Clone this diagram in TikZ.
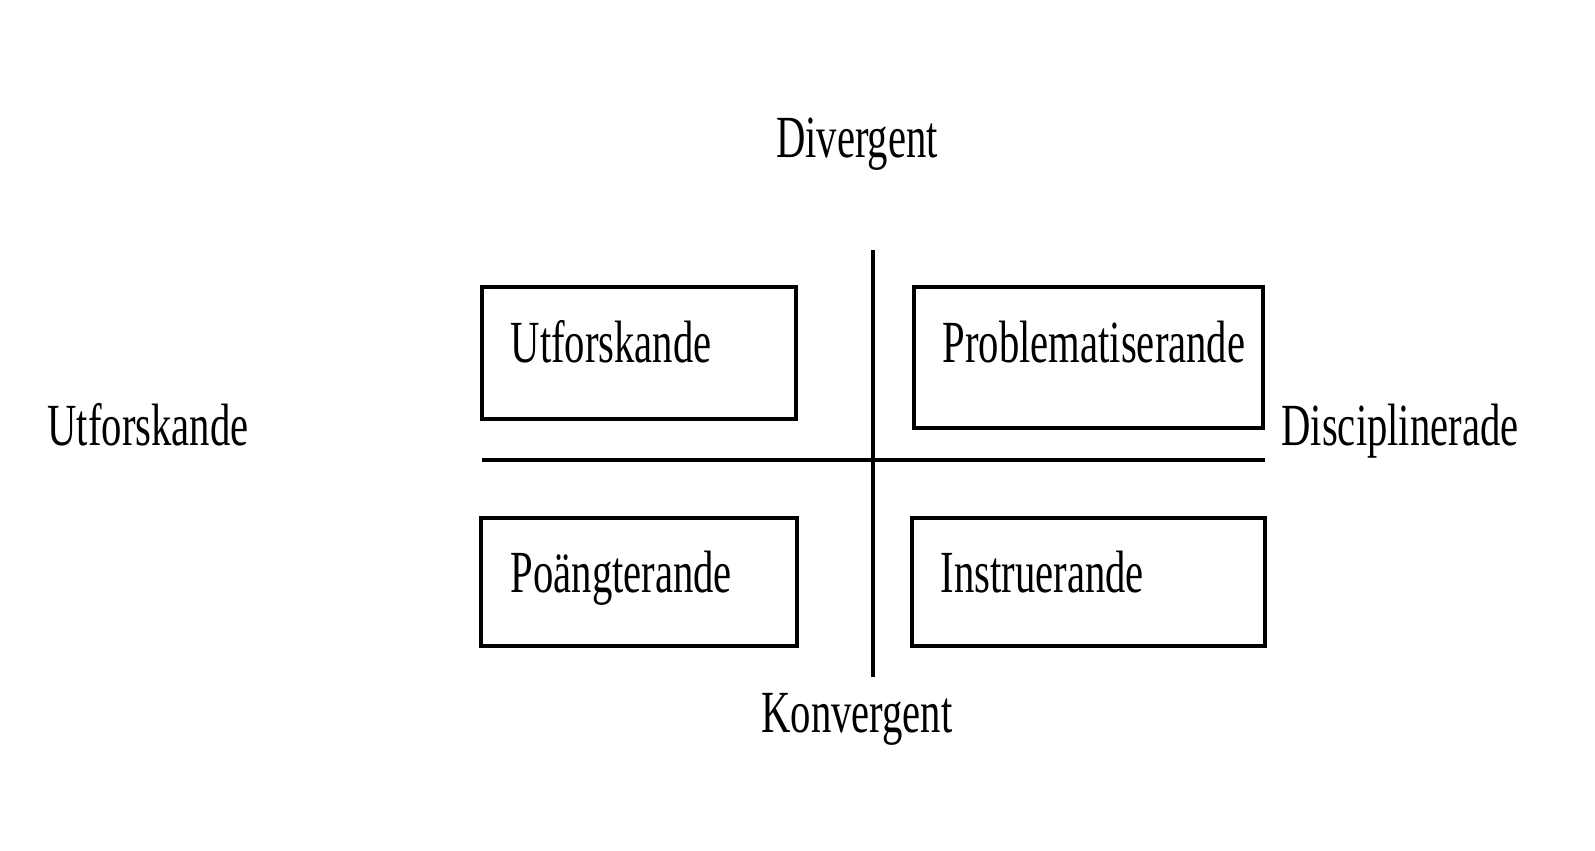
\documentclass[tikz,border=0pt]{standalone}
\usepackage{fontspec}
\setmainfont{Liberation Serif}
\usetikzlibrary{positioning}
\newcommand{\narrow}[1]{\scalebox{0.68}[1]{#1}}
\tikzset{
   box/.style   = {draw, line width=0.35mm, inner sep=0pt},
   label/.style = {font=\fontsize{17pt}{20pt}\selectfont, inner sep=0pt},
   axis/.style  = {-, line width=0.35mm},
}
\begin{document}
\begin{tikzpicture}[x=0.01cm,y=-0.01cm]
      \useasboundingbox (0,0) rectangle (1595,850);

      % quadrant boxes
      \node[box, minimum width=3.14cm, minimum height=1.32cm] (utf)  at (639,353) {};
      \node[box, minimum width=3.49cm, minimum height=1.41cm] (prob) at (1088.5,357.5) {};
      \node[box, minimum width=3.16cm, minimum height=1.28cm] (poa)  at (639,582) {};
      \node[box, minimum width=3.53cm, minimum height=1.28cm] (ins)  at (1088.5,582) {};

      \node[label, anchor=base west] (utftext)  at (510,362) {\narrow{Utforskande}};
      \node[label, anchor=base west] (probtext) at (942,362) {\narrow{Problematiserande}};
      \node[label, anchor=base west] (poatext)  at (510,592) {\narrow{Poängterande}};
      \node[label, anchor=base west] (instext)  at (940,592) {\narrow{Instruerande}};

      % axes
      \coordinate (top)    at (873,250);
      \coordinate (bottom) at (873,677);
      \coordinate (left)   at (482,460);
      \coordinate (right)  at (1265,460);
      \draw[axis] (top)  -- (bottom);
      \draw[axis] (left) -- (right);

      % axis labels
      \node[label, anchor=base] (div)  at (857,157)  {\narrow{Divergent}};
      \node[label, anchor=base] (konv) at (857,732)  {\narrow{Konvergent}};
      \node[label, anchor=base] (ufl)  at (148,445)  {\narrow{Utforskande}};
      \node[label, anchor=base] (disc) at (1400,445) {\narrow{Disciplinerade}};
\end{tikzpicture}
\end{document}
